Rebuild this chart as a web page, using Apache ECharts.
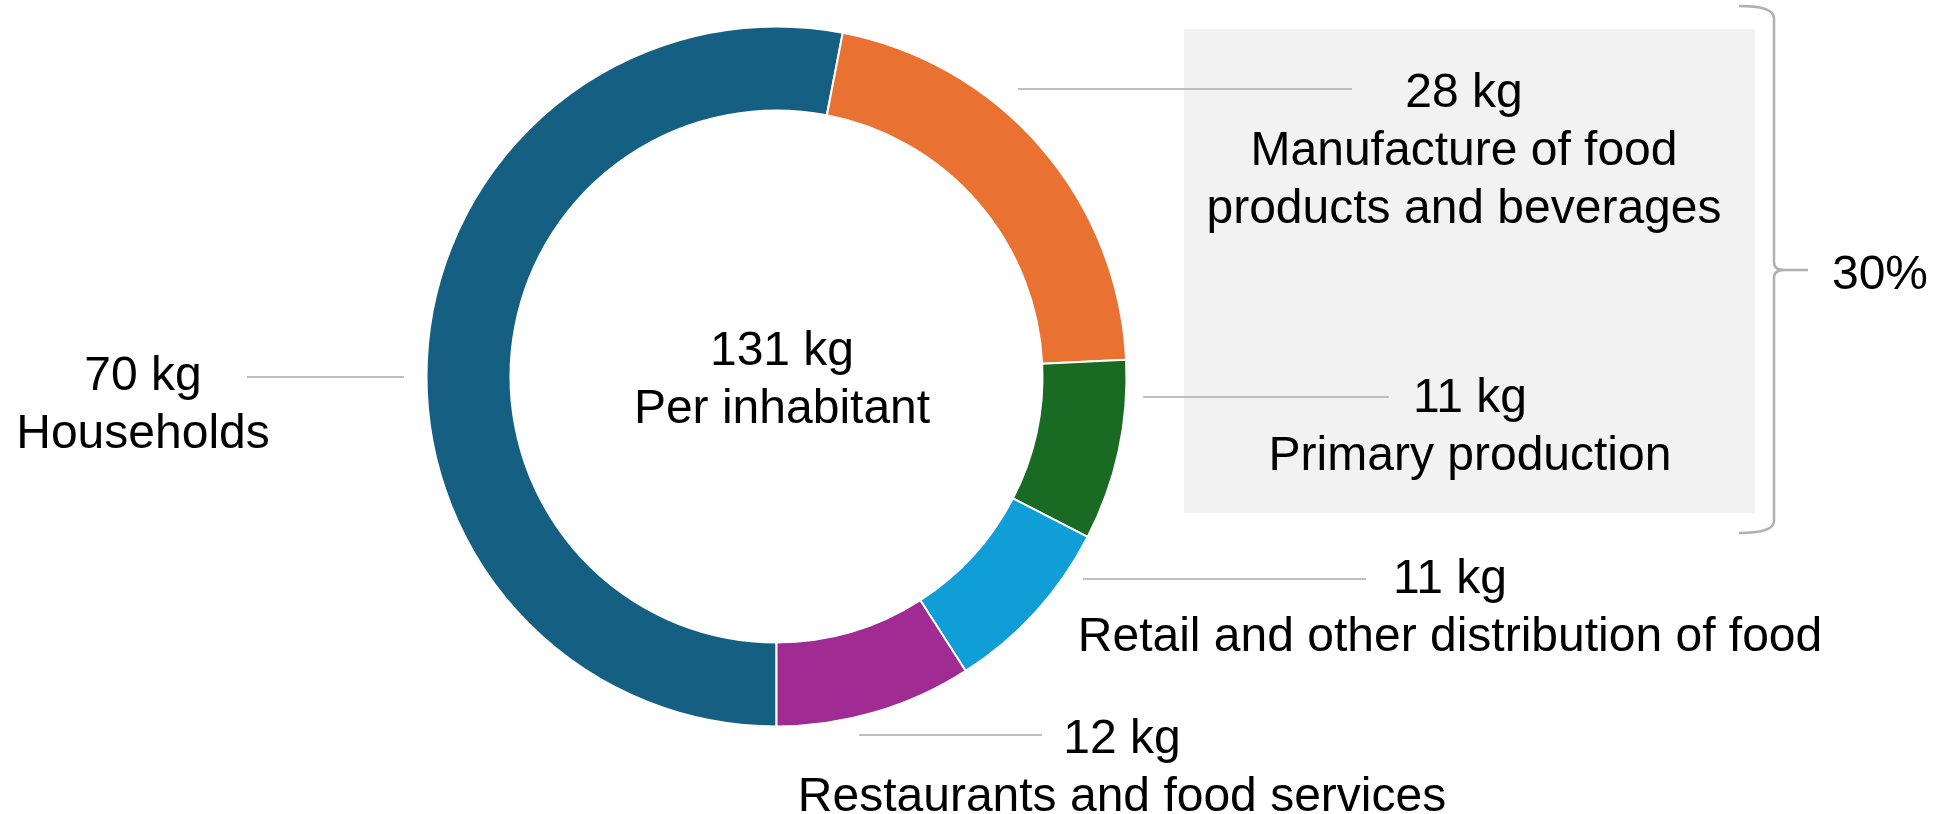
<!DOCTYPE html>
<html>
<head>
<meta charset="utf-8">
<script src="https://cdn.jsdelivr.net/npm/echarts@6/dist/echarts.min.js"></script>
<style>
    html, body { margin: 0; padding: 0; background: #fff; }
    #chart { width: 1939px; height: 814px; }
</style>
</head>
<body>
<div id="chart"></div>
<script>
// data
const names = [
    'Households',
    'Manufacture of food\nproducts and beverages',
    'Primary production',
    'Retail and other distribution of food',
    'Restaurants and food services'
];
const values = [70, 28, 11, 11, 12];
const colors = ['#156082', '#E97132', '#196B24', '#0F9ED5', '#A02B93'];
const totalKg = 131;
const bracketed = [1, 2]; // slices grouped by the brace (manufacture + primary)

// where each label sits: centre x, first line y, and its leader line
const spots = [
    { cx: 143, y1: 377, x1: 247, x2: 404, ly: 377 },
    { cx: 1464, y1: 94, x1: 1018, x2: 1352, ly: 89 },
    { cx: 1470, y1: 399, x1: 1143, x2: 1389, ly: 397 },
    { cx: 1450, y1: 580, x1: 1083, x2: 1366, ly: 579 },
    { cx: 1122, y1: 740, x1: 859, x2: 1042, ly: 735 }
];

const font = '"Liberation Sans", Arial, sans-serif';
const fontSize = 48;
const lineH = 58;

let share = 0;
bracketed.forEach((i) => { share += values[i]; });
share = Math.round(share / totalKg * 100);

const chart = echarts.init(document.getElementById('chart'));

// the curly brace on the right
const braceStyle = { fill: null, stroke: '#b0b0b0', lineWidth: 2.5 };
const curve = (x1, y1, cx, cy, x2, y2) => ({
    type: 'bezierCurve',
    shape: { x1: x1, y1: y1, cpx1: cx, cpy1: cy, x2: x2, y2: y2 },
    style: braceStyle
});
const seg = (x1, y1, x2, y2) => ({
    type: 'line',
    shape: { x1: x1, y1: y1, x2: x2, y2: y2 },
    style: braceStyle
});

let option = {
    animation: false,
    graphic: [
        {
            type: 'rect',
            z: -1,
            shape: { x: 1184, y: 29, width: 571, height: 484 },
            style: { fill: '#f2f2f2' }
        },
        {
            type: 'group',
            children: [
                curve(1739, 6, 1774, 6, 1774, 18),
                seg(1774, 18, 1774, 262),
                curve(1774, 262, 1774, 270, 1784, 270),
                seg(1784, 270, 1808, 270),
                curve(1784, 270, 1774, 270, 1774, 278),
                seg(1774, 278, 1774, 521),
                curve(1774, 521, 1774, 533, 1739, 533)
            ]
        },
        {
            type: 'text',
            x: 1880,
            y: 276,
            style: {
                text: share + '%',
                font: fontSize + 'px ' + font,
                fill: '#000',
                textAlign: 'center',
                textVerticalAlign: 'middle'
            }
        },
        {
            type: 'text',
            x: 782,
            y: 381,
            style: {
                text: totalKg + ' kg\nPer inhabitant',
                font: fontSize + 'px ' + font,
                lineHeight: lineH,
                fill: '#000',
                textAlign: 'center',
                textVerticalAlign: 'middle'
            }
        }
    ],
    series: [
        {
            type: 'pie',
            center: [776.5, 376.5],
            radius: [266, 350],
            startAngle: -90,
            clockwise: true,
            avoidLabelOverlap: false,
            itemStyle: {
                borderColor: '#fff',
                borderWidth: 2
            },
            label: {
                show: true,
                color: '#000',
                fontFamily: font,
                fontSize: fontSize,
                lineHeight: lineH,
                width: 900,
                overflow: 'none',
                formatter: (p) => p.value + ' kg\n' + p.name
            },
            labelLine: {
                show: true,
                lineStyle: { color: '#bfbfbf', width: 2 }
            },
            labelLayout: (params) => {
                const s = spots[params.dataIndex];
                return {
                    x: s.cx,
                    y: s.y1 - lineH / 2,
                    align: 'center',
                    verticalAlign: 'top',
                    labelLinePoints: [[s.x1, s.ly], [s.x1 + 1, s.ly], [s.x2, s.ly]]
                };
            },
            data: names.map((n, i) => ({
                name: n,
                value: values[i],
                itemStyle: { color: colors[i] }
            }))
        }
    ]
};

chart.setOption(option);
</script>
</body>
</html>
